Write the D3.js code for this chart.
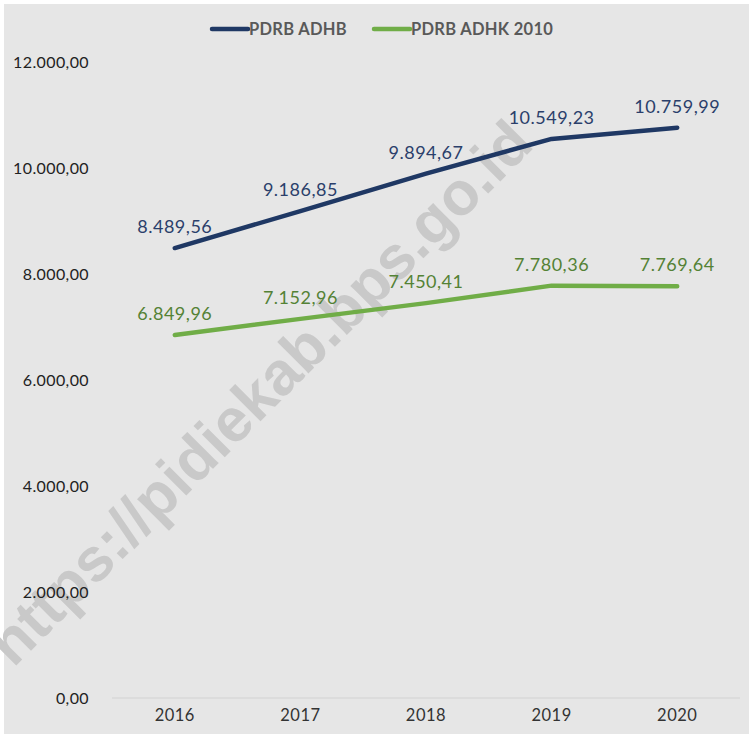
<!DOCTYPE html>
<html><head><meta charset="utf-8">
<script src="https://cdn.jsdelivr.net/npm/d3@7"></script>
<style>
html,body{margin:0;padding:0;background:#fff;}
svg{display:block;}
</style></head>
<body>
<svg id="chart" width="749" height="734"></svg>
<script>
const years = ["2016","2017","2018","2019","2020"];
const seriesNames = ["PDRB ADHB","PDRB ADHK 2010"];
const adhb = [8489.56, 9186.85, 9894.67, 10549.23, 10759.99];
const adhk = [6849.96, 7152.96, 7450.41, 7780.36, 7769.64];
const yTicks = [0, 2000, 4000, 6000, 8000, 10000, 12000];

const lineColors = ["#1f3864", "#70ad47"];
const labelColors = ["#2b3f6b", "#548235"];

const W = 749, H = 734;
const svg = d3.select("#chart");
const loc = d3.formatLocale({decimal:",", thousands:".", grouping:[3], currency:["",""]});
const fmt = loc.format(",.2f");

svg.append("rect").attr("x",4).attr("y",4).attr("width",W-4).attr("height",H-4).attr("fill","#e6e6e6");

const x = d3.scaleBand().domain(years).range([112, 740]);
const y = d3.scaleLinear().domain([0, 12000]).range([698, 62]);

// watermark
svg.append("text")
  .attr("transform","translate(263,396) rotate(-45)")
  .attr("text-anchor","middle").attr("dominant-baseline","middle")
  .attr("font-family","Liberation Sans, Arial, sans-serif").attr("font-weight","bold")
  .attr("font-size",61).attr("fill","#c9c9c9")
  .text("https://pidiekab.bps.go.id");

// zero line
svg.append("line").attr("x1",112).attr("x2",740).attr("y1",y(0)).attr("y2",y(0))
  .attr("stroke","#d2d2d2").attr("stroke-width",1);

// y axis
const yAxis = d3.axisLeft(y).tickValues(yTicks).tickSize(0).tickPadding(0).tickFormat(d=>fmt(d));
const gy = svg.append("g").attr("transform","translate(89,0)").call(yAxis);
gy.select(".domain").remove();
gy.selectAll("text").attr("font-family","Lato, sans-serif").attr("font-size",16)
  .attr("letter-spacing",0.4).attr("fill","#222");

// x axis
const xAxis = d3.axisBottom(x).tickSize(0).tickPadding(0);
const gx = svg.append("g").attr("transform","translate(0,709)").call(xAxis);
gx.select(".domain").remove();
gx.selectAll("text").attr("font-family","Lato, sans-serif").attr("font-size",16.5)
  .attr("letter-spacing",0.5).attr("fill","#333");

const data = [adhb, adhk];
const line = d3.line().x((d,i)=>x(years[i])+x.bandwidth()/2).y(d=>y(d));
data.forEach((vals, s) => {
  svg.append("path").datum(vals).attr("d", line)
    .attr("fill","none").attr("stroke",lineColors[s]).attr("stroke-width",4.5)
    .attr("stroke-linecap","round").attr("stroke-linejoin","round");
  svg.append("g").selectAll("text").data(vals).join("text")
    .attr("x",(d,i)=>x(years[i])+x.bandwidth()/2)
    .attr("y",d=>y(d)-15)
    .attr("text-anchor","middle")
    .attr("font-family","Lato, sans-serif").attr("font-size",18)
    .attr("letter-spacing",0.5)
    .attr("fill",labelColors[s])
    .text(d=>fmt(d));
});

// legend
const legX = [212, 374];
seriesNames.forEach((n,s)=>{
  const g = svg.append("g").attr("transform",`translate(${legX[s]},29)`);
  g.append("line").attr("x1",0).attr("x2",36).attr("y1",0).attr("y2",0)
    .attr("stroke",lineColors[s]).attr("stroke-width",4.5).attr("stroke-linecap","round");
  g.append("text").attr("x",37).attr("y",6).attr("font-family","Lato, sans-serif")
    .attr("font-weight","bold").attr("font-size",16.5).attr("letter-spacing",0.3)
    .attr("fill","#595959").text(n);
});
</script>
</body></html>
